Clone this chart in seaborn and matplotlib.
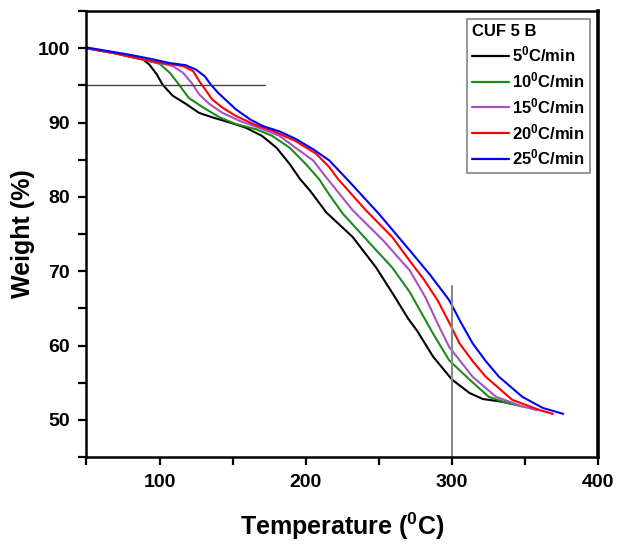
import matplotlib
matplotlib.use("Agg")
import matplotlib.pyplot as plt
import seaborn as sns
import pandas as pd
from matplotlib.ticker import MultipleLocator
from matplotlib.lines import Line2D

sns.set_theme(style="ticks")
plt.rcParams['font.family'] = ['Liberation Sans', 'DejaVu Sans']
plt.rcParams['mathtext.fontset'] = 'custom'
plt.rcParams['mathtext.rm'] = 'Liberation Sans:bold'
plt.rcParams['mathtext.bf'] = 'Liberation Sans:bold'
plt.rcParams['mathtext.default'] = 'rm'
plt.rcParams['text.color'] = 'black'
plt.rcParams['axes.labelcolor'] = 'black'
plt.rcParams['xtick.color'] = 'black'
plt.rcParams['ytick.color'] = 'black'
plt.rcParams['axes.edgecolor'] = 'black'

# ---- data ----
labels = ['5$^{0}$C/min', '10$^{0}$C/min', '15$^{0}$C/min', '20$^{0}$C/min', '25$^{0}$C/min']
colors = ['#000000', '#1a8c1a', '#a552c4', '#ff0000', '#0000ff']

t5 = [50, 70, 88.6, 93, 98, 102, 109, 118, 127, 136, 148, 159, 170, 180, 189, 196, 203, 214, 232, 248, 260, 270, 276, 287, 300, 312, 321, 332, 340]
w5 = [100, 99.3, 98.5, 97.8, 96.5, 95.1, 93.6, 92.5, 91.3, 90.7, 90.0, 89.3, 88.2, 86.6, 84.4, 82.4, 80.8, 77.9, 74.6, 70.5, 66.8, 63.6, 62.0, 58.5, 55.4, 53.6, 52.8, 52.5, 52.2]

t10 = [50, 70, 88, 100, 107, 114, 120, 130, 141, 152, 166, 177, 189, 200, 209, 216, 225, 244, 259, 271, 287, 298, 312, 325, 337, 348]
w10 = [100, 99.3, 98.5, 97.9, 96.7, 94.9, 93.3, 92.0, 90.7, 89.8, 89.1, 88.2, 86.6, 84.4, 82.4, 80.3, 77.8, 73.7, 70.5, 67.2, 61.6, 58.0, 55.4, 53.1, 52.3, 51.8]

t15 = [50, 70, 88, 100, 109, 116, 122, 127, 134, 143, 155, 168, 182, 193, 205, 212, 232, 253, 271, 282, 290, 298, 314, 330, 348, 358]
w15 = [100, 99.3, 98.5, 98.0, 97.6, 96.7, 95.3, 93.8, 92.5, 91.3, 90.2, 89.3, 88.2, 86.6, 84.9, 83.1, 78.2, 74.1, 70.1, 66.4, 63.0, 59.8, 55.8, 53.1, 51.8, 51.3]

t20 = [50, 70, 88, 102, 116, 123, 127, 131, 136, 143, 152, 164, 177, 193, 207, 216, 222, 241, 259, 271, 281, 290, 298, 305, 314, 323, 341, 360, 369]
w20 = [100, 99.3, 98.5, 98.0, 97.6, 96.9, 95.6, 94.5, 93.1, 92.0, 90.9, 89.8, 88.9, 87.5, 85.8, 84.0, 82.4, 78.2, 74.6, 71.4, 68.8, 66.1, 63.1, 60.3, 57.9, 55.8, 52.7, 51.3, 50.8]

t25 = [50, 80, 93, 107, 118, 125, 131, 135, 140, 146, 152, 162, 171, 182, 193, 205, 216, 229, 250, 271, 285, 298, 306, 314, 323, 332, 348, 362, 376]
w25 = [100.1, 99.1, 98.6, 98.0, 97.7, 97.1, 96.2, 95.1, 94.0, 92.9, 91.8, 90.4, 89.5, 88.8, 87.8, 86.4, 84.9, 82.2, 77.7, 72.8, 69.5, 66.1, 63.1, 60.3, 57.9, 55.8, 53.1, 51.6, 50.8]

xticks = [100, 200, 300, 400]
yticks = [50, 60, 70, 80, 90, 100]

frames = []
for lab, t, w in zip(labels, [t5, t10, t15, t20, t25], [w5, w10, w15, w20, w25]):
    frames.append(pd.DataFrame({'T': t, 'W': w, 'rate': lab}))
df = pd.concat(frames, ignore_index=True)

fig = plt.figure(figsize=(6.22, 5.51), dpi=100)
ax = fig.add_axes([0.139, 0.1706, 0.823, 0.8094])

sns.lineplot(data=df, x='T', y='W', hue='rate', palette=colors, hue_order=labels,
             sort=False, estimator=None, linewidth=1.5, ax=ax, legend=False)

# reference lines
ax.plot([50, 172], [95, 95], color='#444444', linewidth=1.0)
ax.plot([300, 300], [45, 68], color='#888888', linewidth=1.5)

ax.set_xlim(50, 400)
ax.set_ylim(45, 105)
ax.set_xticks(xticks)
ax.set_yticks(yticks)
ax.xaxis.set_minor_locator(MultipleLocator(50))
ax.yaxis.set_minor_locator(MultipleLocator(5))
ax.tick_params(which='both', direction='out', width=1.6, length=6, labelsize=14, pad=6, colors='black')
for lbl in ax.get_xticklabels() + ax.get_yticklabels():
    lbl.set_fontweight('bold')

for s in ['left', 'bottom', 'top']:
    ax.spines[s].set_linewidth(1.8)
    ax.spines[s].set_visible(True)
ax.spines['right'].set_linewidth(2.6)
ax.spines['right'].set_visible(True)

ax.set_xlabel('Temperature ($^{0}$C)', fontsize=18, fontweight='bold', labelpad=14)
ax.set_ylabel('Weight (%)', fontsize=18, fontweight='bold', labelpad=2)

handles = [Line2D([0], [0], color=c, linewidth=1.6) for c in colors]
leg = ax.legend(handles, labels, title='CUF 5 B', loc='upper right',
                bbox_to_anchor=(0.984, 0.982), frameon=True, fancybox=False,
                prop={'size': 12, 'weight': 'bold'}, handlelength=2.2,
                handletextpad=0.2, labelspacing=0.35, borderpad=0.3,
                borderaxespad=0.0)
leg.get_title().set_fontweight('bold')
leg.get_title().set_fontsize(12)
leg._legend_box.align = 'left'
leg.get_frame().set_edgecolor('#666666')
leg.get_frame().set_linewidth(1.2)

fig.savefig('out.png', dpi=100)
